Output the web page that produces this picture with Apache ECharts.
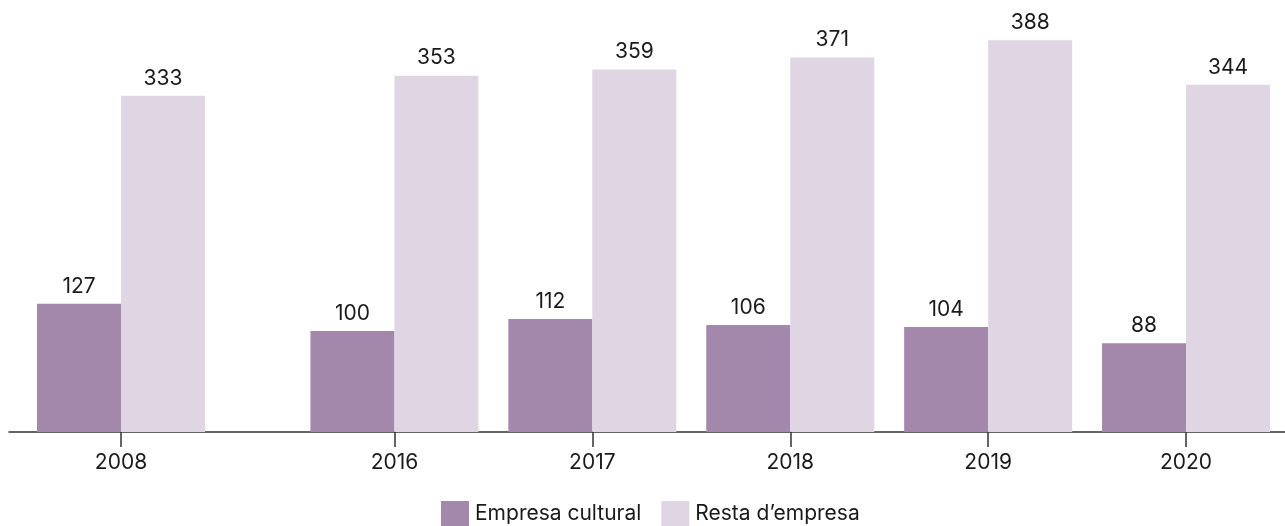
<!DOCTYPE html>
<html>
<head>
<meta charset="utf-8">
<script src="https://cdn.jsdelivr.net/npm/echarts@6/dist/echarts.min.js"></script>
<style>
  html, body { margin: 0; padding: 0; background: #fff; }
  #chart { width: 1285px; height: 526px; }
</style>
</head>
<body>
<div id="chart"></div>
<script>
// Years shown on the axis; 2008 stands apart from the 2016–2020 run
const years = ['2008', '2016', '2017', '2018', '2019', '2020'];
const empresaCultural = [127, 100, 112, 106, 104, 88];
const restaEmpresa = [333, 353, 359, 371, 388, 344];
const seriesNames = ['Empresa cultural', "Resta d\u2019empresa"];
const colors = ['#A488AC', '#DFD5E3'];

const FONT = 'Inter, "Noto Sans", sans-serif';
const Y_MAX = 420;
const TOP = 8, BOTTOM = 94;

const chart = echarts.init(document.getElementById('chart'));

// first group sits in its own grid, the rest share one; same value scale
const groups = [
  { years: years.slice(0, 1), a: empresaCultural.slice(0, 1), b: restaEmpresa.slice(0, 1) },
  { years: years.slice(1), a: empresaCultural.slice(1), b: restaEmpresa.slice(1) }
];

const grids = [
  { left: 9, width: 224, top: TOP, bottom: BOTTOM },
  { left: 295.5, width: 991, top: TOP, bottom: BOTTOM },
  { left: 9, right: 0, top: TOP, bottom: BOTTOM }   // carries the baseline
];

const xAxes = groups.map((g, i) => ({
  type: 'category',
  gridIndex: i,
  data: g.years,
  axisLine: { show: false },
  axisTick: { show: true, alignWithLabel: true, length: 15, lineStyle: { color: '#333', width: 1.5 } },
  axisLabel: { color: '#1a1a1a', fontSize: 21, fontFamily: FONT, margin: 20 }
}));
xAxes.push({
  type: 'value', gridIndex: 2, min: 0, max: 1,
  axisLine: { show: true, lineStyle: { color: '#333', width: 1.5 } },
  axisTick: { show: false }, axisLabel: { show: false }, splitLine: { show: false }
});

const yAxes = [0, 1, 2].map(i => ({
  type: 'value', gridIndex: i, min: 0, max: Y_MAX, show: false,
  splitLine: { show: false }
}));

const label = {
  show: true, position: 'top', distance: 7,
  color: '#1a1a1a', fontSize: 21, fontFamily: FONT
};

const series = [];
groups.forEach((g, i) => {
  [g.a, g.b].forEach((vals, k) => {
    series.push({
      name: seriesNames[k],
      type: 'bar',
      xAxisIndex: i,
      yAxisIndex: i,
      data: vals,
      barWidth: 84,
      barGap: '0%',
      itemStyle: { color: colors[k] },
      label: label,
      emphasis: { disabled: true }
    });
  });
});

chart.setOption({
  animation: false,
  color: colors,
  grid: grids,
  xAxis: xAxes,
  yAxis: yAxes,
  legend: {
    data: seriesNames,
    top: 501,
    left: 441,
    padding: 0,
    icon: 'rect',
    itemWidth: 28,
    itemHeight: 25,
    itemGap: 20,
    textStyle: { color: '#1a1a1a', fontSize: 21, fontFamily: FONT, padding: [0, 0, 0, 1] }
  },
  series: series
});
</script>
</body>
</html>
